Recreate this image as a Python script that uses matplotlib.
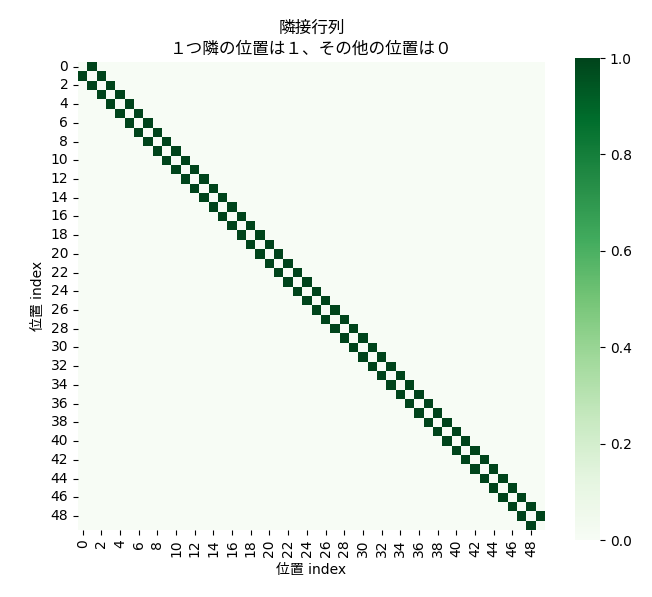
import numpy as np
import matplotlib
matplotlib.use("Agg")
import matplotlib.pyplot as plt
import seaborn as sns

n_positions = 50
neighbor_offsets = [1, -1]

adj = np.zeros((n_positions, n_positions))
for off in neighbor_offsets:
    adj += np.eye(n_positions, k=off)

plt.rcParams['font.family'] = ['DejaVu Sans', 'Noto Sans CJK JP']

fig = plt.figure(figsize=(6.52, 5.97), dpi=100)
ax = fig.add_axes([78/652, 1 - 530/597, 467/652, 468/597])
cax = fig.add_axes([575/652, 1 - 540/597, 25/652, 482/597])
sns.heatmap(adj, cmap="Greens", ax=ax, cbar_ax=cax, vmin=0, vmax=1)
ax.set_title("隣接行列\n１つ隣の位置は１、その他の位置は０")
ax.set_xlabel("位置 index")
ax.set_ylabel("位置 index")
ax.tick_params(axis='x', labelrotation=90)
ax.tick_params(axis='y', labelrotation=0)
plt.savefig("out.png")
